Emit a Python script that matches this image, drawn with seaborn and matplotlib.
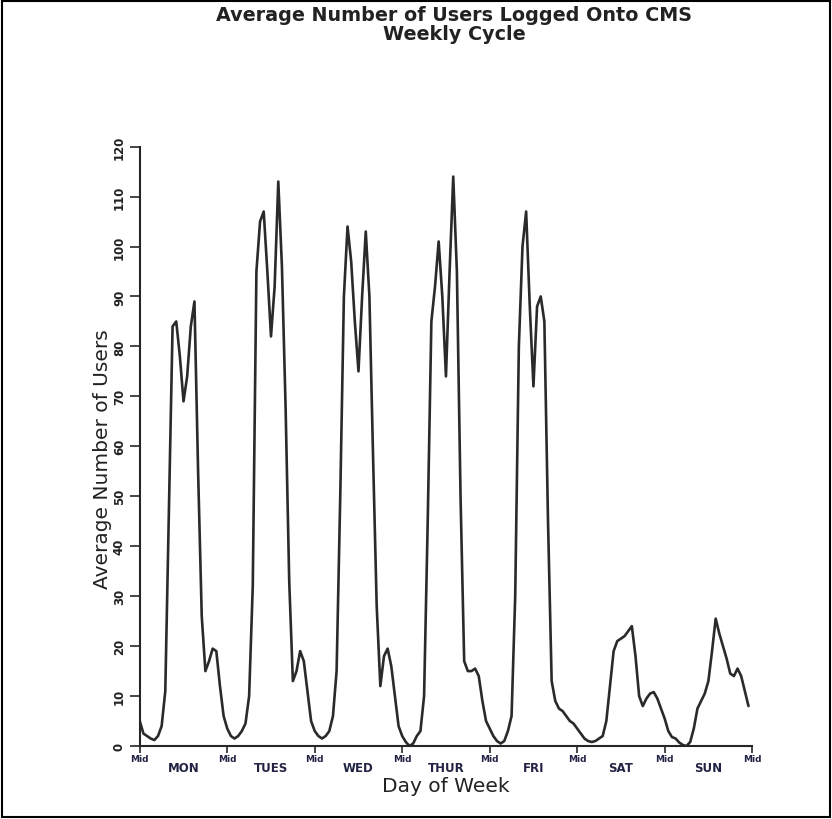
import numpy as np
import pandas as pd
import matplotlib.pyplot as plt
import seaborn as sns

# =========================
# Data: hourly average users (Mid = midnight start of each day)
# =========================
day_names = ['MON', 'TUES', 'WED', 'THUR', 'FRI', 'SAT', 'SUN']

mon = [5, 2.5, 2, 1.5, 1.2, 2, 4, 11, 48, 84, 85, 78,
       69, 74, 84, 89, 55, 26, 15, 17, 19.5, 19, 12, 6]
tue = [3.5, 2, 1.5, 2, 3, 4.5, 10, 32, 95, 105, 107, 95,
       82, 92, 113, 96, 68, 33, 13, 15, 19, 17, 11, 5]
wed = [3, 2, 1.5, 2, 3, 6, 15, 50, 90, 104, 97, 85,
       75, 90, 103, 90, 58, 28, 12, 18, 19.5, 16, 10, 4]
thu = [2, 0.8, 0, 0.5, 2, 3, 10, 45, 85, 92, 101, 90,
       74, 95, 114, 95, 50, 17, 15, 15, 15.5, 14, 9, 5]
fri = [3.5, 2, 1, 0.5, 1, 3, 6, 30, 80, 100, 107, 88,
       72, 88, 90, 85, 45, 13, 9, 7.5, 7, 6, 5, 4.5]
sat = [3.5, 2.5, 1.5, 1, 0.8, 1, 1.5, 2, 5, 12, 19, 21,
       21.5, 22, 23, 24, 18, 10, 8, 9.5, 10.5, 10.8, 9.5, 7.5]
sun = [5.5, 3, 1.8, 1.5, 0.7, 0.2, 0, 0.8, 3.5, 7.5, 9, 10.5,
       13, 19, 25.5, 22.5, 20, 17.5, 14.5, 14, 15.5, 14, 11, 8]

users = mon + tue + wed + thu + fri + sat + sun
df = pd.DataFrame({'hour': np.arange(len(users)), 'users': users})

# =========================
# Figure
# =========================
sns.set_style('ticks')
plt.rcParams['font.family'] = ['DejaVu Sans']

fig = plt.figure(figsize=(8.32, 8.20), dpi=100)
ax = fig.add_axes([0.168, 0.089, 0.736, 0.731])

sns.lineplot(data=df, x='hour', y='users', ax=ax, color='#2a2a2a', linewidth=1.9)

ax.set_xlim(0, 168)
ax.set_ylim(0, 120)
sns.despine(ax=ax)
ax.spines['left'].set_linewidth(1.5)
ax.spines['bottom'].set_linewidth(1.5)

# y ticks (rotated, like the old plotter output)
ax.set_yticks(range(0, 121, 10))
ax.set_yticklabels([str(v) for v in range(0, 121, 10)], rotation=90,
                   va='center', fontsize=8.5, fontweight='bold', color='#222222')
ax.tick_params(axis='y', length=7, width=1.2, pad=3)

# x ticks: "Mid" at day boundaries, day names in between
ax.set_xticks(range(0, 169, 24))
ax.set_xticklabels(['Mid'] * 8, fontsize=6.5, fontweight='bold', color='#222244')
ax.tick_params(axis='x', which='major', length=5, width=1.2, pad=1)
ax.set_xticks(range(12, 168, 24), minor=True)
ax.set_xticklabels(day_names, minor=True, fontsize=8.5, fontweight='bold', color='#222244')
ax.tick_params(axis='x', which='minor', length=0, pad=11)

ax.set_xlabel('Day of Week', fontsize=14.5, color='#222222', labelpad=1)
ax.set_ylabel('Average Number of Users', fontsize=14.5, color='#222222')
ax.yaxis.set_label_coords(-0.045, 0.48)

fig.text(0.546, 0.993, 'Average Number of Users Logged Onto CMS\nWeekly Cycle',
         ha='center', va='top', fontsize=13.8, fontweight='bold',
         color='#222222', linespacing=1.0)

# page border
fig.add_artist(plt.Rectangle((0.003, 0.003), 0.994, 0.994, transform=fig.transFigure,
                             fill=False, linewidth=1.5, edgecolor='black'))

plt.savefig('out.png', dpi=100)
